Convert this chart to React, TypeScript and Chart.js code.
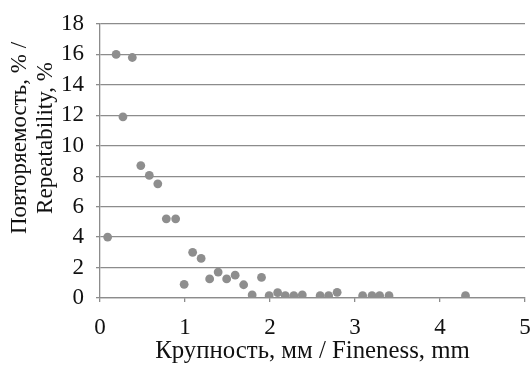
import React, { useEffect, useRef } from "react";
import { Chart, registerables } from "chart.js";

Chart.register(...registerables);

const fineness = [0.09, 0.19, 0.27, 0.38, 0.48, 0.58, 0.68, 0.78, 0.89, 0.99, 1.09, 1.19, 1.29, 1.39, 1.49, 1.59, 1.69, 1.79, 1.9, 1.99, 2.09, 2.18, 2.28, 2.38, 2.59, 2.69, 2.79, 3.09, 3.2, 3.29, 3.4, 4.3];
const repeatability = [4.0, 16.0, 11.9, 15.8, 8.7, 8.05, 7.5, 5.2, 5.2, 0.9, 3.0, 2.6, 1.25, 1.7, 1.25, 1.5, 0.87, 0.2, 1.35, 0.15, 0.35, 0.15, 0.15, 0.2, 0.15, 0.15, 0.37, 0.15, 0.15, 0.15, 0.15, 0.15];
const xTitle = "Крупность, мм / Fineness, mm";
const yTitle = ["Повторяемость, % /", "Repeatability, %"];

const FONT = "'Liberation Serif', 'Times New Roman', serif";
const GRID = "#8c8c8c";
const TEXT = "#111111";
const PAD = "\u00A0".repeat(8);

export default function App() {
  const ref = useRef<HTMLCanvasElement | null>(null);
  useEffect(() => {
    if (!ref.current) return;
    const points = fineness.map((x, i) => ({ x, y: repeatability[i] }));
    const chart = new Chart(ref.current, {
      type: "scatter",
      data: {
        datasets: [
          {
            data: points,
            backgroundColor: "#8e8e8e",
            borderColor: "#8e8e8e",
            borderWidth: 0,
            pointRadius: 4.4,
          },
        ],
      },
      options: {
        animation: false,
        responsive: false,
        layout: { padding: { top: 24, right: 7, left: 0, bottom: 0 } },
        plugins: { legend: { display: false }, tooltip: { enabled: false } },
        scales: {
          x: {
            type: "linear",
            min: 0,
            max: 5,
            ticks: { stepSize: 1, autoSkip: false, color: TEXT, font: { family: FONT, size: 23 }, padding: 12, maxRotation: 0 },
            grid: { drawOnChartArea: false, drawTicks: true, tickLength: 4, color: GRID, lineWidth: 1.3 },
            border: { color: GRID, width: 1.3 },
            title: { display: true, text: xTitle, color: TEXT, font: { family: FONT, size: 24.8, lineHeight: 1.17 }, padding: { top: 0, bottom: -1 } },
            afterFit: (s: any) => { s.height = 67; s.paddingLeft = 0; s.paddingRight = 0; },
          },
          y: {
            type: "linear",
            min: 0,
            max: 18,
            ticks: { stepSize: 2, autoSkip: false, color: TEXT, font: { family: FONT, size: 23 }, padding: 12 },
            grid: { drawTicks: true, tickLength: 4, color: GRID, lineWidth: 1.3 },
            border: { color: GRID, width: 1.3 },
            title: { display: true, text: yTitle.map((t) => PAD + t), color: TEXT, font: { family: FONT, size: 23, lineHeight: 1.12 }, padding: { top: 7, bottom: 0 } },
            afterFit: (s: any) => { s.width = 100; s.paddingTop = 0; s.paddingBottom = 0; },
          },
        },
      },
    });
    return () => chart.destroy();
  }, []);
  return (
    <div style={{ position: "absolute", left: 0, top: 0, width: 532, height: 365, background: "#fff" }}>
      <canvas ref={ref} width={532} height={365} />
    </div>
  );
}
